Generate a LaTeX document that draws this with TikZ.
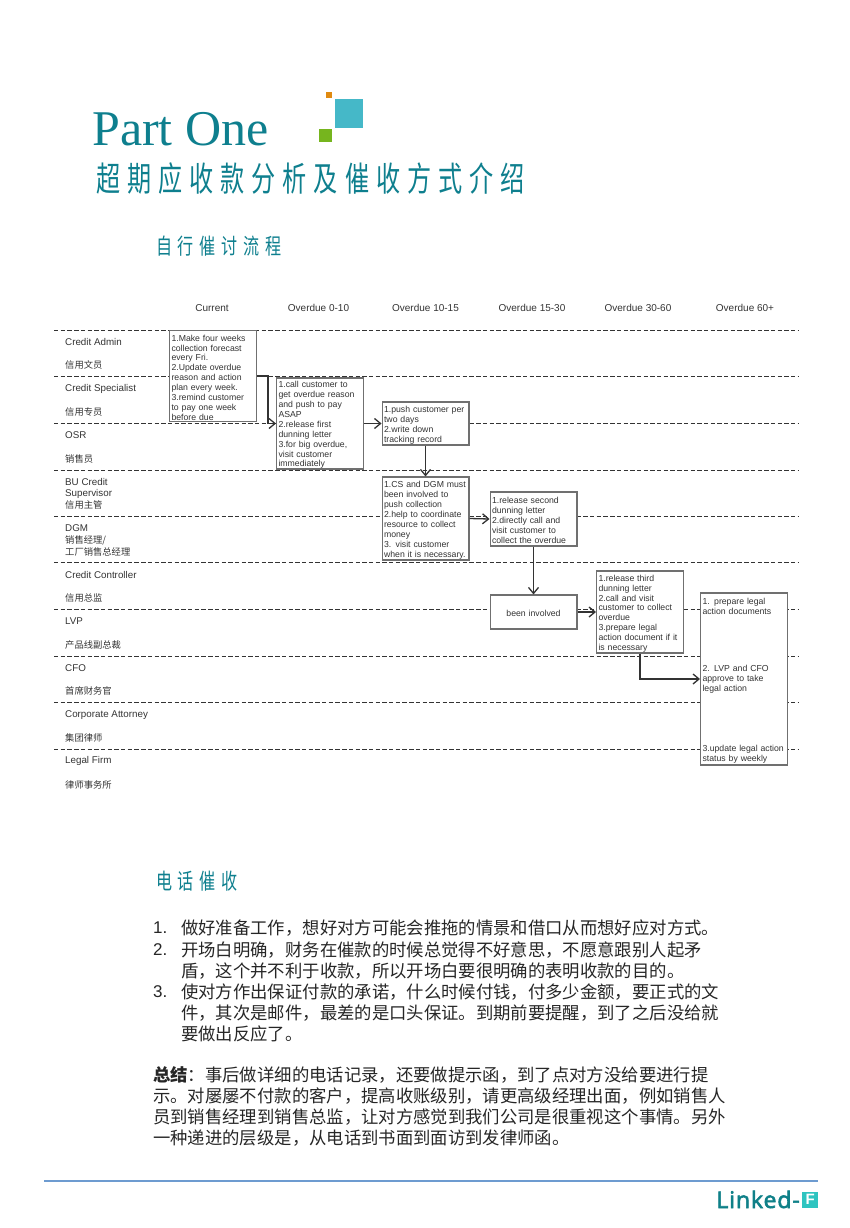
\documentclass[tikz,border=0pt]{standalone}
\usepackage{fontspec}
\setmainfont{Liberation Sans}
\newfontfamily\cjkfont{Noto Sans CJK SC}
\newfontfamily\bodyfont[Kerning=Off]{Noto Sans CJK SC}
\newfontfamily\titlefont[FakeStretch=0.71,LetterSpace=20.5]{Noto Sans CJK SC}
\newfontfamily\subtitlefont[FakeStretch=0.73,LetterSpace=26]{Noto Sans CJK SC}
\newfontfamily\partfont{Liberation Serif}
\newfontfamily\logofont[FakeBold=2.5,LetterSpace=4]{Open Sans}
\usetikzlibrary{arrows.meta}
\hyphenpenalty=10000
\definecolor{tealtext}{HTML}{0E7F8E}
\definecolor{tealsquare}{HTML}{45B8C8}
\definecolor{orangesquare}{HTML}{E08A10}
\definecolor{greensquare}{HTML}{76B51E}
\definecolor{rulecolor}{HTML}{6D9BD0}
\definecolor{logoteal}{HTML}{0F8088}
\definecolor{logobox}{HTML}{2EC4C0}
\definecolor{boxgray}{HTML}{707070}
\definecolor{inkgray}{HTML}{333333}
\tikzset{
  lane/.style={draw=inkgray, line width=1pt, dash pattern=on 4.4pt off 2.3pt},
  stepbox/.style={draw=boxgray, fill=white, line width=1.1pt, inner xsep=2pt, inner ysep=0pt, text width=82.9pt, align=left, text=inkgray,
    font=\fontsize{8.7}{9.9}\selectfont, execute at begin node={\rule{0pt}{9.5pt}}},
  flowline/.style={draw=inkgray, line width=1.3pt, -{Straight Barb[length=6pt,width=10pt]}},
  colhead/.style={text=inkgray, inner sep=0pt, font=\fontsize{10}{11}\selectfont},
  rolelabel/.style={text=inkgray, inner sep=0pt, anchor=west, font=\fontsize{9.8}{11}\selectfont},
  rolecjk/.style={text=inkgray, inner sep=0pt, anchor=west, font=\cjkfont\fontsize{9.3}{11}\selectfont},
  bodytext/.style={text=black!85, inner sep=0pt, anchor=north west, align=left, font=\bodyfont\fontsize{17.35}{21}\selectfont},
  bodynum/.style={text=black!85, inner sep=0pt, anchor=west, font=\fontsize{17}{21}\selectfont},
}
\begin{document}
\begin{tikzpicture}[x=1pt, y=-1pt]
  \useasboundingbox (0,0) rectangle (850,1228);
  % heading
  \node[anchor=base west, inner sep=0pt, text=tealtext, font=\partfont\fontsize{50}{50}\selectfont] (partone) at (92,146) {Part One};
  \fill[orangesquare] (326,92) rectangle (332,98);
  \fill[tealsquare] (335,99) rectangle (363,128);
  \fill[greensquare] (319,129) rectangle (332,142);
  \node[anchor=west, inner sep=0pt, text=tealtext, font=\titlefont\fontsize{34}{34}\selectfont] (maintitle) at (96,179) {超期应收款分析及催收方式介绍};
  \node[anchor=west, inner sep=0pt, text=tealtext, font=\subtitlefont\fontsize{22}{22}\selectfont] (flowtitle) at (156,246) {自行催讨流程};
  % lanes
  \draw[lane] (54,330) -- (798,330);
  \draw[lane] (54,376.5) -- (798,376.5);
  \draw[lane] (54,423) -- (798,423);
  \draw[lane] (54,470) -- (798,470);
  \draw[lane] (54,516) -- (798,516);
  \draw[lane] (54,562.5) -- (798,562.5);
  \draw[lane] (54,609) -- (798,609);
  \draw[lane] (54,656) -- (798,656);
  \draw[lane] (54,702) -- (798,702);
  \draw[lane] (54,749) -- (798,749);
  % column heads
  \node[colhead] (current) at (212,308) {Current};
  \node[colhead] (overdueA) at (318.5,308) {Overdue 0-10};
  \node[colhead] (overdueB) at (425.5,308) {Overdue 10-15};
  \node[colhead] (overdueC) at (532,308) {Overdue 15-30};
  \node[colhead] (overdueD) at (638,308) {Overdue 30-60};
  \node[colhead] (overdueE) at (745,308) {Overdue 60+};
  % roles
  \node[rolelabel] (admin) at (65,342) {Credit Admin};
  \node[rolecjk] (admincn) at (65,365) {信用文员};
  \node[rolelabel] (specialist) at (65,389) {Credit Specialist};
  \node[rolecjk] (specialistcn) at (65,411.5) {信用专员};
  \node[rolelabel] (osr) at (65,435) {OSR};
  \node[rolecjk] (osrcn) at (65,458.5) {销售员};
  \node[rolelabel] (bucredit) at (65,482) {BU Credit};
  \node[rolelabel] (supervisor) at (65,493.5) {Supervisor};
  \node[rolecjk] (supervisorcn) at (65,505) {信用主管};
  \node[rolelabel] (dgm) at (65,528) {DGM};
  \node[rolecjk] (dgmcn) at (65,540) {销售经理/};
  \node[rolecjk] (factorycn) at (65,552) {工厂销售总经理};
  \node[rolelabel] (controller) at (65,575) {Credit Controller};
  \node[rolecjk] (controllercn) at (65,598) {信用总监};
  \node[rolelabel] (lvp) at (65,621) {LVP};
  \node[rolecjk] (lvpcn) at (65,644.5) {产品线副总裁};
  \node[rolelabel] (cfo) at (65,668) {CFO};
  \node[rolecjk] (cfocn) at (65,691) {首席财务官};
  \node[rolelabel] (attorney) at (65,715) {Corporate Attorney};
  \node[rolecjk] (attorneycn) at (65,738) {集团律师};
  \node[rolelabel] (legalfirm) at (65,761) {Legal Firm};
  \node[rolecjk] (legalfirmcn) at (65,785) {律师事务所};
  % steps
  \node[stepbox, minimum height=91pt] (forecast) at (213,376) {1.Make four weeks\\collection forecast\\every Fri.\\2.Update overdue\\reason and action\\plan every week.\\3.remind customer\\to pay one week\\before due};
  \node[stepbox, minimum height=91pt] (firstletter) at (320,423.5) {1.call customer to\\get overdue reason\\and push to pay\\ASAP\\2.release first\\dunning letter\\3.for big overdue,\\visit customer\\immediately};
  \node[stepbox, minimum height=43pt] (tracking) at (425.5,423.5) {1.push customer per\\two days\\2.write down\\tracking record};
  \node[stepbox, minimum height=83pt] (coordinate) at (425.5,518.5) {1.CS and DGM must\\been involved to\\push collection\\2.help to coordinate\\resource to collect\\money\\3. visit customer\\when it is necessary.};
  \node[stepbox, minimum height=54pt] (secondletter) at (533.5,519) {1.release second\\dunning letter\\2.directly call and\\visit customer to\\collect the overdue};
  \node[stepbox, minimum height=34pt, align=center, execute at begin node={}] (involved) at (533.5,612) {been involved};
  \node[stepbox, minimum height=82pt] (thirdletter) at (640,612) {1.release third\\dunning letter\\2.call and visit\\customer to collect\\overdue\\3.prepare legal\\action document if it\\is necessary};
  \node[stepbox, minimum height=172pt] (legalaction) at (744,679) {1. prepare legal\\action documents\\[48pt]2. LVP and CFO\\approve to take\\legal action\\[50pt]3.update legal action\\status by weekly};
  % arrows
  \draw[flowline] (forecast.east) -- ++(11,0) |- (firstletter.west);
  \draw[flowline] (firstletter.east) -- (tracking.west);
  \draw[flowline] (tracking.south) -- (coordinate.north);
  \draw[flowline] (coordinate.east) -- (secondletter.west);
  \draw[flowline] (secondletter.south) -- (involved.north);
  \draw[flowline] (involved.east) -- (thirdletter.west);
  \draw[flowline] (thirdletter.south) |- (legalaction.west);
  % phone section
  \node[anchor=west, inner sep=0pt, text=tealtext, font=\subtitlefont\fontsize{22}{22}\selectfont] (phonetitle) at (156,881) {电话催收};
  \node[bodynum] (numone) at (153,928) {1.};
  \node[bodytext] (itemone) at (181,920) {做好准备工作，想好对方可能会推拖的情景和借口从而想好应对方式。};
  \node[bodynum] (numtwo) at (153,950) {2.};
  \node[bodytext] (itemtwo) at (181,942) {开场白明确，财务在催款的时候总觉得不好意思，不愿意跟别人起矛\\盾，这个并不利于收款，所以开场白要很明确的表明收款的目的。};
  \node[bodynum] (numthree) at (153,992) {3.};
  \node[bodytext] (itemthree) at (181,984) {使对方作出保证付款的承诺，什么时候付钱，付多少金额，要正式的文\\件，其次是邮件，最差的是口头保证。到期前要提醒，到了之后没给就\\要做出反应了。};
  \node[bodytext] (summary) at (153,1066) {\textbf{总结}：事后做详细的电话记录，还要做提示函，到了点对方没给要进行提\\示。对屡屡不付款的客户，提高收账级别，请更高级经理出面，例如销售人\\员到销售经理到销售总监，让对方感觉到我们公司是很重视这个事情。另外\\一种递进的层级是，从电话到书面到面访到发律师函。};
  % footer
  \draw[rulecolor, line width=1.2pt] (44,1181) -- (818,1181);
  \node[anchor=base east, inner sep=0pt, text=logoteal, font=\logofont\fontsize{23}{23}\selectfont] (logotext) at (800,1208) {Linked-};
  \node[anchor=south west, fill=logobox, inner sep=0pt, minimum width=16pt, minimum height=16pt, text=white, font=\fontsize{15}{15}\selectfont\bfseries] (logomark) at (802,1208) {F};
\end{tikzpicture}
\end{document}
